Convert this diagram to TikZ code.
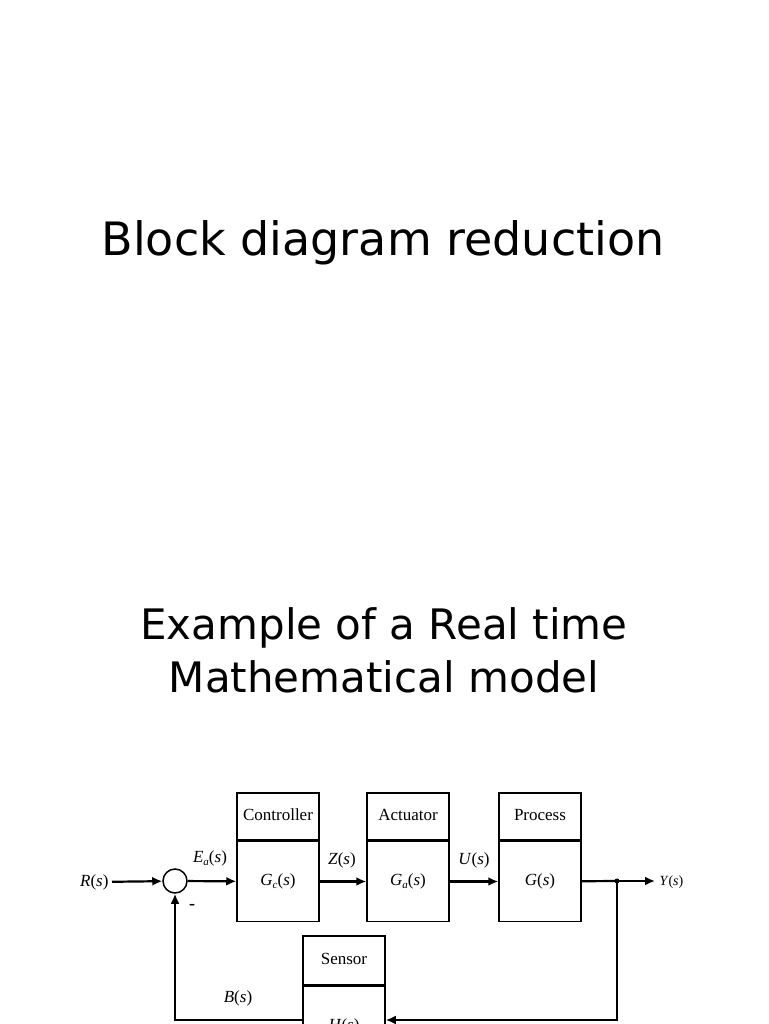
\documentclass[tikz,border=0pt]{standalone}
\usepackage{fontspec}
\setmainfont{DejaVu Sans}
\newfontfamily\tms{Liberation Serif}
\usetikzlibrary{arrows.meta}
\begin{document}
\begin{tikzpicture}[x=1pt,y=-1pt,
  blk/.style={draw,line width=1.5pt,minimum width=82pt,inner sep=0pt,text height=11pt,text depth=3pt},
  lab/.style={font=\tms\fontsize{17}{19}\selectfont},
  sig/.style={line width=2.2pt},
  arr/.style={sig,-{Latex[length=10pt,width=9pt]}}]
\useasboundingbox (0,0) rectangle (768,1024);
\node[font=\fontsize{46}{54}\selectfont] (t1) at (383,243) {Block diagram reduction};
\node[font=\fontsize{42}{53}\selectfont,align=center] (t2) at (384,650) {Example of a Real time\\Mathematical model};
\begin{scope}
\clip (0,0) rectangle (768,1024);
\foreach \n/\x/\h/\g in {c/278/Controller/{\textit{G}\raisebox{-3pt}{\fontsize{11}{12}\selectfont\textit{c}}(\textit{s})},a/408/Actuator/{\textit{G}\raisebox{-3pt}{\fontsize{11}{12}\selectfont\textit{a}}(\textit{s})},p/540/Process/{\textit{G}(\textit{s})}}{
  \node[blk,minimum height=47pt,lab] (\n h) at (\x,816.5) {\h};
  \node[blk,minimum height=80pt,lab,anchor=north] (\n) at (\n h.south) {\g};
}
\node[blk,minimum height=49pt,lab] (sh) at (344,960.5) {Sensor};
\node[blk,minimum height=80pt,lab,anchor=north] (s) at (sh.south) {\textit{H}(\textit{s})};
\node[draw,circle,line width=1.5pt,minimum size=24pt,inner sep=0pt] (sum) at (175,881) {};
\node[lab,anchor=east] (R) at (112,882) {\textit{R}(\textit{s})};
\coordinate (br) at (617,881);
\coordinate (yend) at (655,881);
\node[lab,anchor=west,font=\tms\fontsize{14}{16}\selectfont] (Y) at (656,882) {\textit{Y}(\textit{s})};
\coordinate (fr) at (617,1020);
\coordinate (fl) at (175,1020);
\draw[arr] (R) -- (sum);
\draw[arr] (sum) -- (c);
\draw[arr] (c) -- (a);
\draw[arr] (a) -- (p);
\draw[sig] (p) -- (br);
\draw[arr] (br) -- (yend);
\fill (br) circle (2.5pt);
\draw[arr] (br) -- (fr) -- (s.east |- fr);
\draw[arr] (s.west |- fr) -- (fl) -- (sum);
\node[lab] (ea) at (210,858) {\textit{E}\raisebox{-3pt}{\fontsize{11}{12}\selectfont\textit{a}}(\textit{s})};
\node[lab] (z) at (342,860) {\textit{Z}(\textit{s})};
\node[lab] (u) at (474,860) {\textit{U}(\textit{s})};
\node[lab] (b) at (238,998) {\textit{B}(\textit{s})};
\node[font=\bfseries\large] (minus) at (192,906) {--};
\end{scope}
\end{tikzpicture}
\end{document}
